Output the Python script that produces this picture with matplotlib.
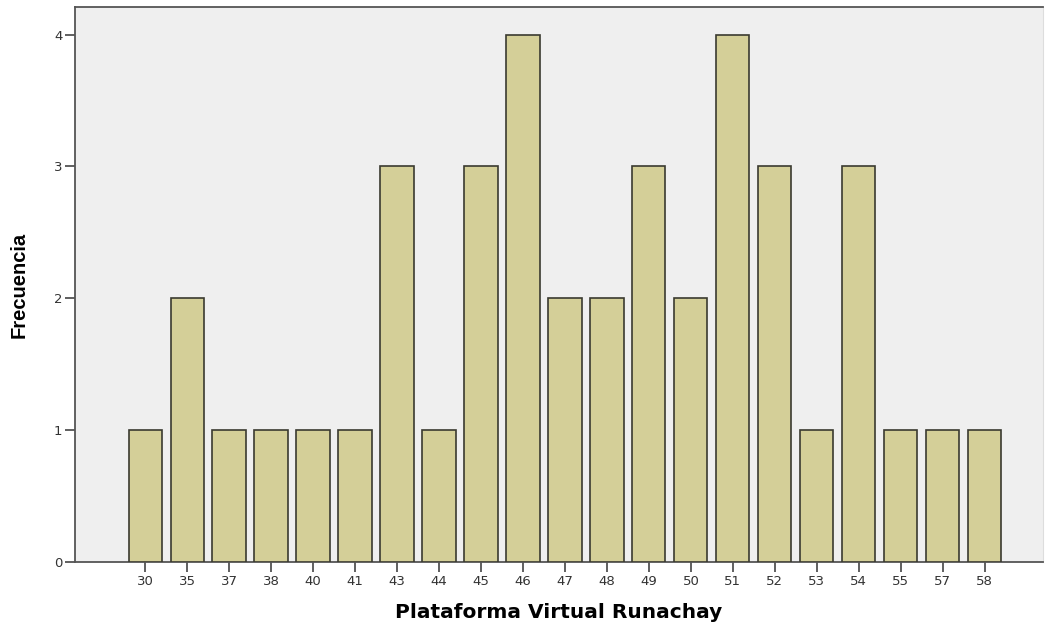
import matplotlib.pyplot as plt

# puntajes y frecuencias
puntajes = ["30", "35", "37", "38", "40", "41", "43", "44", "45", "46", "47",
            "48", "49", "50", "51", "52", "53", "54", "55", "57", "58"]
frecuencias = [1, 2, 1, 1, 1, 1, 3, 1, 3, 4, 2, 2, 3, 2, 4, 3, 1, 3, 1, 1, 1]
yticks = [0, 1, 2, 3, 4]


def main():
    plt.rcParams['font.family'] = ['DejaVu Sans']
    fig = plt.figure(figsize=(10.49, 6.28), dpi=100)
    ax = fig.add_axes([0.0715, 0.105, 0.9225, 0.884])
    ax.set_facecolor('#efefef')

    pos = list(range(len(puntajes)))
    ax.bar(pos, frecuencias, width=0.79, color='#d4cf98',
           edgecolor='#3a3a30', linewidth=1.2, zorder=3)

    ax.set_xlim(-1.67, 21.38)
    ax.set_ylim(0, 4.21)
    ax.set_xticks(pos)
    ax.set_xticklabels(puntajes, fontsize=9.5, color='#333333')
    ax.set_yticks(yticks)
    ax.set_yticklabels([str(t) for t in yticks], fontsize=9.5, color='#333333')
    ax.tick_params(axis='both', length=7, width=1.2, color='#444444', pad=2)

    for s in ['left', 'bottom', 'top']:
        ax.spines[s].set_color('#555555')
        ax.spines[s].set_linewidth(1.3)
    ax.spines['right'].set_color('#dddddd')

    ax.set_xlabel('Plataforma Virtual Runachay', fontsize=14.5, fontweight='bold',
                  labelpad=11)
    ax.set_ylabel('Frecuencia', fontsize=14.5, fontweight='bold', labelpad=18,
                  family='Liberation Sans')

    fig.savefig('out.png', dpi=100, facecolor='white')


if __name__ == "__main__":
    main()
